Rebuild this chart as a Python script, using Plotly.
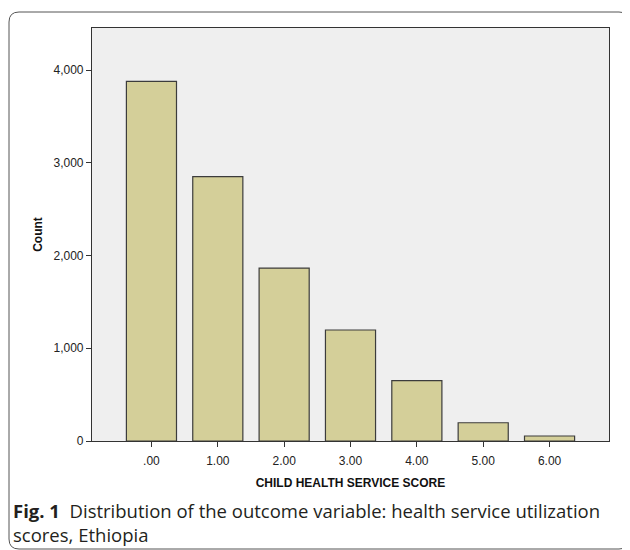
import plotly.graph_objects as go

categories = [".00", "1.00", "2.00", "3.00", "4.00", "5.00", "6.00"]
counts = [3878, 2850, 1865, 1197, 650, 197, 54]
y_ticks = [0, 1000, 2000, 3000, 4000]

# the page adds an 8px body margin; design in page pixels and subtract it
OFF = 8
W, H = 630 - OFF, 550 - OFF
L, R, T, B = 92 - OFF, 21, 28 - OFF, 109
pw, ph = W - L - R, H - T - B

def px(x):
    return (x - OFF - L) / pw

def py(y):
    return (H - B - (y - OFF)) / ph

fig = go.Figure()
fig.add_trace(go.Bar(
    x=categories, y=counts, width=0.755,
    marker=dict(color="#d4cf99", line=dict(color="#3c3c3c", width=1.2)),
    hoverinfo="x+y",
))

# rounded frame around figure + caption
x0, x1, y0, y1, r = 9, 629, 12, 549, 10
path = (f"M {px(x0+r)},{py(y0)} L {px(x1-r)},{py(y0)} Q {px(x1)},{py(y0)} {px(x1)},{py(y0+r)} "
        f"L {px(x1)},{py(y1-r)} Q {px(x1)},{py(y1)} {px(x1-r)},{py(y1)} "
        f"L {px(x0+r)},{py(y1)} Q {px(x0)},{py(y1)} {px(x0)},{py(y1-r)} "
        f"L {px(x0)},{py(y0+r)} Q {px(x0)},{py(y0)} {px(x0+r)},{py(y0)} Z")
fig.add_shape(type="path", path=path, xref="paper", yref="paper",
              line=dict(color="#555555", width=1), layer="below")

cap_font = dict(family="Open Sans, Noto Sans, sans-serif", size=18.5, color="#231f20")
fig.add_annotation(x=px(11), y=py(522), xref="paper", yref="paper", xanchor="left", yanchor="middle",
                   align="left", showarrow=False, font=cap_font,
                   text="<b>Fig. 1</b>  Distribution of the outcome variable: health service utilization"
                        "<br>scores, Ethiopia")

fig.update_layout(
    width=W, height=H,
    margin=dict(l=L, r=R, t=T, b=B),
    paper_bgcolor="white",
    plot_bgcolor="#efefef",
    showlegend=False,
    font=dict(family="Liberation Sans, Arial, sans-serif", size=12, color="#222222"),
    xaxis=dict(
        type="category", range=[-0.896, 6.896],
        showline=True, linecolor="#333333", linewidth=1.2, mirror=True,
        ticks="outside", ticklen=5, tickcolor="#333333", ticklabelstandoff=3,
        showgrid=False, zeroline=False,
        title=dict(text="<b>CHILD HEALTH SERVICE SCORE</b>", font=dict(size=12, color="#111111"), standoff=12),
    ),
    yaxis=dict(
        range=[0, 4453], tickvals=y_ticks, tickformat=",",
        showline=True, linecolor="#333333", linewidth=1.2, mirror=True,
        ticks="outside", ticklen=5, tickcolor="#333333",
        showgrid=False, zeroline=False,
        title=dict(text="<b>Count</b>", font=dict(size=12, color="#111111"), standoff=8),
    ),
)

fig.write_html("out.html")
